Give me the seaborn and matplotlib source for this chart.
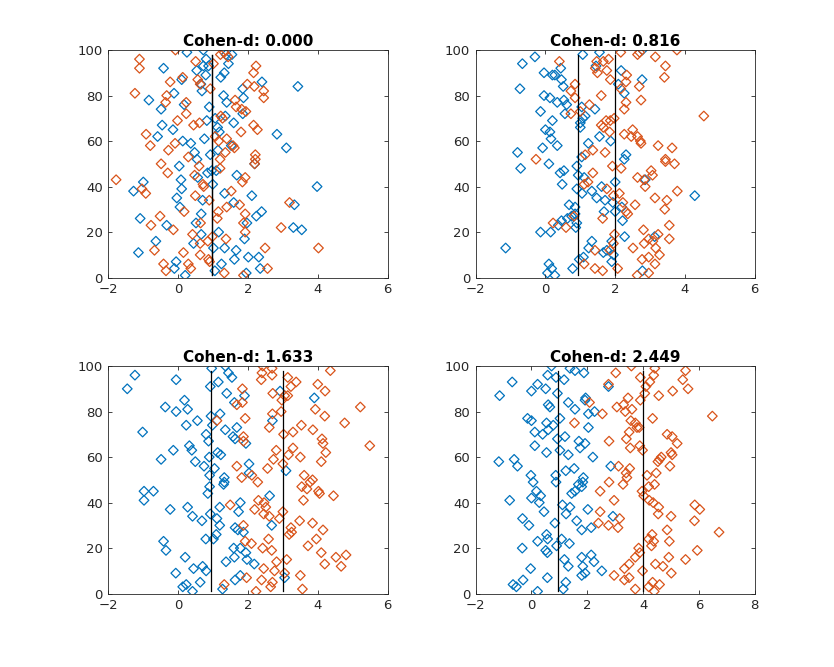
import matplotlib
matplotlib.use("Agg")
import matplotlib.pyplot as plt
import pandas as pd
import seaborn as sns

# titles, axis limits, group means (vertical lines)
titles = ["Cohen-d: 0.000", "Cohen-d: 0.816", "Cohen-d: 1.633", "Cohen-d: 2.449"]
x_limits = [(-2, 6), (-2, 6), (-2, 6), (-2, 8)]
x_ticks = [[-2, 0, 2, 4, 6], [-2, 0, 2, 4, 6], [-2, 0, 2, 4, 6], [-2, 0, 2, 4, 6, 8]]
y_ticks = [0, 20, 40, 60, 80, 100]
group_means = [(0.98, 0.98), (0.93, 2.0), (0.94, 3.0), (0.95, 4.0)]
line_span = (1, 98)

# panel 1
p1_blue = [(0.25,99),(0.72,100),(0.8,96),(0.53,91),(-0.42,92),(0.72,93),(0.87,93),(0.79,89),(1.22,88),(1.32,90),
           (1.37,98),(1.54,98),(1.44,94),(0.1,87),(0.65,85),(0.68,82),(2.4,86),(3.43,84),(1.85,83),(1.87,79),
           (1.3,80),(1.39,77),(-0.12,81),(-0.84,78),(-0.49,74),(0.17,76),(0.89,75),(1.85,72),(1.35,71),(1.06,70),
           (0.82,69),(1.59,68),(1.13,66),(1.18,64),(-0.46,67),(-0.15,65),(-0.59,62),(0.13,60),(0.36,59),(0.75,61),
           (1.14,56),(1.52,58),(0.47,55),(0.54,52),(0.92,54),(2.83,63),(3.1,57),
           (0.03,49),(0.08,43),(0.1,39),(-0.04,35),(0.05,31),(-1.0,42),(-1.28,38),(-1.09,26),(-0.33,23),(-0.64,16),
           (-1.14,11),(-0.06,7),(-0.11,4),(0.2,1),(0.56,44),(0.84,46),(0.96,47),(1.09,47),(0.99,41),(0.7,34),
           (0.66,28),(0.51,24),(0.66,19),(0.44,15),(1.01,13),(1.33,13),(1.16,20),(1.24,6),(1.05,3),(1.33,37),
           (1.59,33),(1.68,45),(2.11,36),(2.39,29),(2.24,27),(1.97,24),(1.9,17),(1.66,12),(1.61,8),(2.01,9),
           (2.31,9),(2.35,4),(1.95,2),(2.19,50),(3.98,40),(3.33,32),(3.3,22),(3.54,21)]
p1_orange = [(-1.11,96),(-1.11,92),(-0.08,100),(-0.23,86),(-1.24,81),(-0.33,80),(-0.36,77),(0.13,88),(0.5,95),(0.56,87),
             (0.63,85),(0.92,83),(1.01,94),(1.32,99),(1.21,98),(1.43,97),(2.23,93),(2.16,90),(1.98,85),(2.18,84),
             (2.45,82),(2.45,79),(1.63,78),(1.66,75),(1.82,74),(1.94,73),(1.22,71),(1.27,70),(0.23,77),(0.23,72),
             (-0.02,69),(0.44,67),(0.61,68),(-0.92,63),(-0.8,58),(-0.28,56),(-0.09,59),(0.29,53),(1.06,62),(1.16,60),
             (1.39,61),(1.57,58),(1.61,57),(1.35,55),(1.2,52),(1.8,64),(2.16,67),(2.27,65),(2.21,54),(2.21,52),
             (-0.49,50),(-0.3,46),(-1.78,43),(-1.04,39),(-0.93,37),(0.47,45),(0.6,49),(0.71,41),(0.73,40),(0.49,36),
             (0.89,34),(1.2,48),(1.52,38),(1.39,31),(1.15,29),(1.12,26),(1.76,32),(1.92,44),(1.84,42),(2.19,50),
             (1.92,28),(1.87,24),(1.92,20),(-0.52,27),(-0.78,23),(-0.14,21),(0.41,19),(0.64,24),(0.63,15),(0.85,16),
             (0.98,18),(1.37,17),(-0.68,12),(0.15,11),(0.63,10),(0.87,8),(0.9,7),(0.29,6),(0.36,4),(-0.42,6),
             (-0.35,3),(1.32,2),(1.87,1),(2.49,13),(2.56,4),(2.95,22),(3.19,33),(4.02,13),(0.17,29)]

# panel 2
p2_blue = [(-0.66,94),(-0.3,97),(-0.73,83),(-0.04,90),(0.2,89),(0.27,89),(0.44,92),(0.46,87),(0.51,84),(-0.04,80),
           (0.13,79),(0.34,77),(0.53,78),(0.61,76),(-0.14,73),(0.56,72),(0.2,69),(0.0,65),(0.13,64),(0.16,61),
           (0.34,58),(-0.08,57),(-0.8,55),(1.07,98),(1.55,99),(1.45,93),(2.17,91),(2.78,100),(2.77,87),(2.09,85),
           (2.26,81),(1.04,75),(1.14,71),(1.07,70),(1.0,68),(1.0,66),(1.42,74),(1.55,62),(1.87,60),(1.23,59),
           (2.31,54),(2.26,52),(1.04,53),
           (-0.71,48),(0.1,50),(0.42,46),(0.53,47),(0.9,49),(0.94,45),(1.11,44),(0.48,41),(0.9,39),(1.05,37),
           (1.33,38),(1.61,40),(2.0,42),(1.47,35),(1.71,34),(1.93,33),(2.0,29),(1.68,29),(2.19,31),(2.21,25),
           (0.68,32),(0.85,31),(0.85,28),(0.75,27),(0.63,26),(0.46,25),(0.37,23),(0.15,20),(-0.14,20),(0.9,24),
           (0.87,22),(-1.14,13),(1.33,16),(1.24,13),(1.66,11),(1.76,12),(1.9,16),(1.95,10),(2.27,18),(3.13,18),
           (2.86,43),(4.28,36),(0.97,8),(1.09,9),(0.78,4),(0.1,6),(0.18,4),(0.06,2),(0.27,1),(1.9,7),(2.78,3)]
p2_orange = [(0.4,95),(0.85,85),(0.73,82),(0.85,79),(0.73,72),(1.0,73),(1.26,76),(1.6,80),(1.43,92),(1.49,90),
             (1.47,95),(1.66,95),(1.81,96),(1.76,91),(1.86,87),(2.16,99),(2.64,98),(2.7,99),(3.15,97),(3.77,100),
             (3.44,93),(3.41,88),(2.33,89),(2.31,86),(2.16,83),(2.69,84),(2.74,78),(2.31,77),(2.26,74),(1.97,70),
             (1.86,69),(1.74,69),(1.6,67),(1.66,66),(1.84,64),(1.71,55),(2.26,63),(2.5,65),(2.46,62),(2.64,62),
             (2.72,60),(2.74,59),(3.23,58),(3.63,57),(4.54,71),(-0.27,52),(1.14,54),(1.36,56),(3.44,52),
             (1.92,49),(2.17,48),(1.36,46),(1.11,41),(1.22,42),(1.76,39),(2.12,37),(1.95,36),(2.22,33),(2.31,29),
             (2.36,28),(2.57,32),(2.64,44),(2.83,43),(2.86,40),(3.03,47),(3.07,45),(3.44,51),(3.7,50),(3.78,38),
             (3.14,35),(3.48,34),(3.42,30),(3.55,23),(3.55,17),(3.23,19),(2.81,21),(3.08,16),(2.96,17),(2.83,15),
             (3.16,13),(2.51,13),(3.27,10),(2.96,9),(2.77,8),(3.14,6),(2.96,2),(2.63,1),(1.98,19),(1.95,15),
             (1.85,12),(1.42,12),(1.42,4),(1.64,3),(1.11,6),(2.07,4),(1.64,26),(0.82,27),(0.59,22),(0.22,24)]

# panel 3
p3_blue = [(-1.24,96),(-1.46,90),(-0.06,94),(0.96,99),(1.35,100),(1.44,97),(1.54,95),(1.15,93),(0.92,91),(1.39,88),
           (1.9,87),(1.61,84),(0.18,85),(-0.37,82),(-0.06,80),(0.27,81),(0.55,76),(0.23,74),(0.94,78),(1.2,79),
           (0.98,74),(-1.02,71),(0.8,70),(0.87,67),(1.35,72),(1.68,73),(1.57,69),(1.63,68),(1.94,66),(0.32,65),
           (0.39,63),(-0.14,63),(-0.49,59),(0.49,58),(0.74,56),(0.89,60),(1.13,62),(1.22,61),(1.04,55),(0.9,52),
           (2.03,57),(2.03,53),(1.32,51),(3.9,86),(2.7,76),(2.92,89),(3.09,54),
           (-0.98,45),(-0.98,41),(-0.71,45),(-0.23,37),(0.27,38),(0.41,34),(0.68,32),(0.9,47),(0.85,44),(1.32,49),
           (0.92,35),(1.11,33),(1.19,38),(1.19,30),(1.78,40),(1.73,36),(1.63,29),(1.71,28),(1.87,27),(1.09,26),
           (1.01,24),(0.79,24),(2.62,43),(2.68,30),(-0.42,23),(-0.35,19),(0.2,16),(1.59,20),(1.78,20),(1.94,18),
           (1.97,15),(1.61,16),(1.37,14),(2.18,13),(0.44,11),(0.7,12),(0.8,10),(-0.07,9),(1.78,8),(1.63,6),
           (0.63,5),(0.23,4),(0.13,3),(0.41,1),(1.27,2),(3.05,7),(1.3,48)]
p3_orange = [(2.42,100),(2.4,97),(2.69,96),(2.69,99),(2.38,94),(3.14,95),(3.38,93),(3.23,91),(4.36,98),(4.0,92),
             (4.21,89),(1.84,90),(1.84,84),(2.71,88),(2.97,85),(3.05,87),(3.14,87),(1.68,83),(2.95,80),(2.7,79),
             (3.93,81),(4.2,78),(5.22,82),(1.92,77),(1.11,76),(2.61,73),(3.53,74),(3.29,71),(3.86,72),(4.77,75),
             (3.02,70),(1.87,69),(1.87,67),(4.12,68),(4.15,66),(4.23,62),(5.49,65),(3.29,64),(3.16,61),(2.81,63),
             (3.5,60),(2.73,59),(4.1,58),(3.0,57),(1.68,56),(2.56,55),(2.11,52),(1.82,51),(3.61,52),(3.85,50),
             (2.28,49),(3.54,47),(3.69,46),(3.78,49),(4.02,45),(4.05,44),(4.45,43),(3.59,41),(1.49,39),(2.3,41),
             (2.46,40),(2.51,38),(2.19,37),(2.45,35),(2.61,34),(3.0,36),(2.9,33),(3.48,32),(3.85,31),(1.87,30),
             (3.23,29),(3.18,26),(3.25,27),(4.15,28),(3.96,24),(1.92,23),(2.1,22),(2.59,24),(3.72,21),(2.42,20),
             (2.68,19),(4.1,18),(4.52,16),(4.81,17),(2.82,14),(3.11,15),(4.2,13),(4.67,12),(2.45,11),(2.76,10),
             (3.05,9),(3.5,8),(1.96,7),(2.39,6),(2.7,5),(2.65,3),(1.32,4),(2.23,1),(3.56,2)]

# panel 4
p4_blue = [(0.72,100),(1.38,99),(1.56,98),(1.88,97),(0.58,96),(0.88,95),(1.17,94),(-0.69,93),(0.22,92),(0.0,89),
           (0.51,90),(-1.14,87),(0.93,88),(2.76,91),(1.94,86),(1.92,85),(1.32,84),(1.56,81),(0.6,83),(0.66,82),
           (2.26,80),(2.04,79),(1.02,77),(-0.14,77),(0.0,76),(0.54,75),(0.78,74),(0.6,72),(0.12,71),(0.4,70),
           (2.04,73),(0.93,68),(1.2,69),(1.7,67),(1.92,66),(1.74,64),(0.12,65),(1.02,63),(0.54,62),(1.32,61),
           (2.2,60),(-1.17,58),(-0.62,59),(-0.5,56),(1.23,54),(1.53,55),(2.84,56),(-0.02,52),(0.87,52),(1.86,51),
           (0.06,49),(0.88,49),(0.18,45),(0.33,43),(0.0,42),(0.28,40),(0.45,36),(-0.78,41),(1.44,44),(1.56,45),
           (1.68,48),(1.8,47),(1.84,49),(1.11,39),(1.38,38),(1.24,35),(2.02,37),(2.92,34),(-0.32,33),(-0.09,30),
           (0.84,31),(1.62,32),(1.8,28),(2.14,29),(0.54,26),(0.58,24),(0.22,23),(1.08,24),(1.36,22),(0.9,21),
           (-0.33,20),(0.51,19),(0.57,18),(1.18,15),(1.32,12),(1.8,16),(2.14,17),(2.24,14),(1.84,12),(1.92,9),
           (1.8,8),(2.52,10),(-0.03,11),(0.57,7),(-0.3,6),(-0.66,4),(-0.54,3),(0.22,1),(1.14,2),(1.23,5)]
p4_orange = [(3.02,97),(3.58,100),(3.9,95),(4.42,99),(4.38,96),(4.24,93),(4.1,91),(5.52,98),(5.42,94),(5.61,90),
             (5.06,89),(4.56,87),(4.06,88),(2.76,92),(3.9,85),(3.46,86),(3.3,83),(3.06,82),(3.6,81),(3.36,80),
             (2.54,79),(2.08,84),(4.34,77),(6.48,78),(1.54,75),(3.56,76),(3.72,75),(3.78,73),(3.86,73),(3.5,71),
             (3.4,68),(4.86,70),(5.04,69),(5.22,66),(2.78,67),(3.54,64),(3.88,65),(3.98,63),(5.0,62),(5.04,61),
             (4.65,60),(4.59,59),(4.53,58),(4.96,56),(3.12,56),(3.52,55),(3.39,53),(3.42,51),(4.14,52),(4.47,53),
             (2.78,49),(3.28,48),(2.46,45),(2.96,41),(3.96,45),(4.2,47),(4.41,48),(4.02,43),(4.22,41),(4.36,40),
             (4.56,38),(4.54,35),(5.0,34),(5.85,39),(6.03,37),(5.84,32),(2.46,36),(2.4,31),(2.76,30),(3.16,33),
             (3.1,29),(4.86,28),(6.72,27),(4.32,26),(4.2,24),(4.38,23),(4.3,21),(4.94,23),(5.94,19),(3.84,20),
             (3.88,18),(3.72,16),(4.92,16),(5.52,15),(4.44,13),(4.71,12),(3.5,13),(3.33,11),(3.98,10),(5.01,9),
             (2.96,8),(3.5,7),(3.33,6),(4.34,5),(4.59,4),(4.2,3),(3.72,2),(4.4,1)]

blue_groups = [p1_blue, p2_blue, p3_blue, p4_blue]
orange_groups = [p1_orange, p2_orange, p3_orange, p4_orange]

BLUE = "#0072BD"
ORANGE = "#D95319"
AXIS_COLOR = "#262626"

fig = plt.figure(figsize=(8.34, 6.67), dpi=100)
positions = [[0.13, 0.5838, 0.3347, 0.3412], [0.5703, 0.5838, 0.3347, 0.3412],
             [0.13, 0.11, 0.3347, 0.3412], [0.5703, 0.11, 0.3347, 0.3412]]

for i in range(4):
    ax = fig.add_axes(positions[i])
    blue = pd.DataFrame(blue_groups[i], columns=["x", "y"])
    orange = pd.DataFrame(orange_groups[i], columns=["x", "y"])
    sns.scatterplot(data=blue, x="x", y="y", marker="D", s=24, facecolor="none",
                    edgecolor=BLUE, linewidth=0.9, ax=ax)
    sns.scatterplot(data=orange, x="x", y="y", marker="D", s=24, facecolor="none",
                    edgecolor=ORANGE, linewidth=0.9, ax=ax)
    for m in group_means[i]:
        ax.plot([m, m], line_span, color="black", linewidth=0.9)

    ax.set_xlim(x_limits[i])
    ax.set_ylim(0, 100)
    ax.set_xticks(x_ticks[i])
    ax.set_yticks(y_ticks)
    ax.set_xlabel("")
    ax.set_ylabel("")
    ax.set_title(titles[i], fontsize=11, fontweight="bold", pad=3)
    ax.tick_params(direction="in", top=True, right=True, length=3, width=0.6,
                   labelsize=9.5, colors=AXIS_COLOR, pad=4)
    for spine in ax.spines.values():
        spine.set_linewidth(0.6)
        spine.set_color(AXIS_COLOR)

fig.savefig("out.png", dpi=100)
